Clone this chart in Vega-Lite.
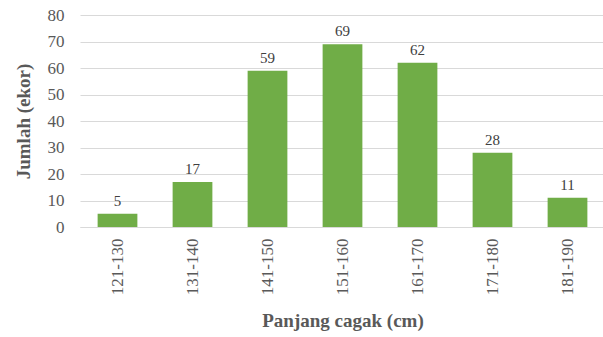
{
  "$schema": "https://vega.github.io/schema/vega-lite/v6.json",
  "autosize": {"type": "none"},
  "padding": {"left": 80, "top": 15, "right": 0, "bottom": 110},
  "width": 525,
  "height": 212,
  "background": "white",
  "config": {"view": {"stroke": null}, "font": "Liberation Serif"},
  "data": {"values": [
    {"kelas": "121-130", "jumlah": 5},
    {"kelas": "131-140", "jumlah": 17},
    {"kelas": "141-150", "jumlah": 59},
    {"kelas": "151-160", "jumlah": 69},
    {"kelas": "161-170", "jumlah": 62},
    {"kelas": "171-180", "jumlah": 28},
    {"kelas": "181-190", "jumlah": 11}
  ]},
  "encoding": {
    "x": {"field": "kelas", "type": "nominal", "sort": null,
      "scale": {"paddingInner": 0.47, "paddingOuter": 0.235},
      "axis": {"title": "Panjang cagak (cm)", "labelAngle": -90, "labelAlign": "right", "labelBaseline": "middle",
        "labelFont": "Liberation Serif", "labelFontSize": 17, "labelColor": "#595959", "labelPadding": 11,
        "ticks": false, "domainColor": "#d9d9d9", "titleFont": "Liberation Serif", "titleFontSize": 19,
        "titleFontWeight": "bold", "titleColor": "#595959", "titlePadding": 17}},
    "y": {"field": "jumlah", "type": "quantitative",
      "scale": {"domain": [0, 80]},
      "axis": {"title": "Jumlah (ekor)", "values": [0,10,20,30,40,50,60,70,80], "labelFont": "Liberation Serif",
        "labelFontSize": 17, "labelColor": "#595959", "labelPadding": 16, "ticks": false, "domain": false,
        "gridColor": "#d9d9d9", "titleFont": "Liberation Serif", "titleFontSize": 19, "titleFontWeight": "bold",
        "titleColor": "#595959", "titlePadding": 14}},
    "y2": {"datum": 0}
  },
  "layer": [
    {"mark": {"type": "bar", "color": "#70AD47"}},
    {"mark": {"type": "text", "dy": -13, "fontSize": 15, "color": "#404040", "font": "Liberation Serif"},
     "encoding": {"text": {"field": "jumlah", "type": "quantitative"}, "y2": null}}
  ]
}
